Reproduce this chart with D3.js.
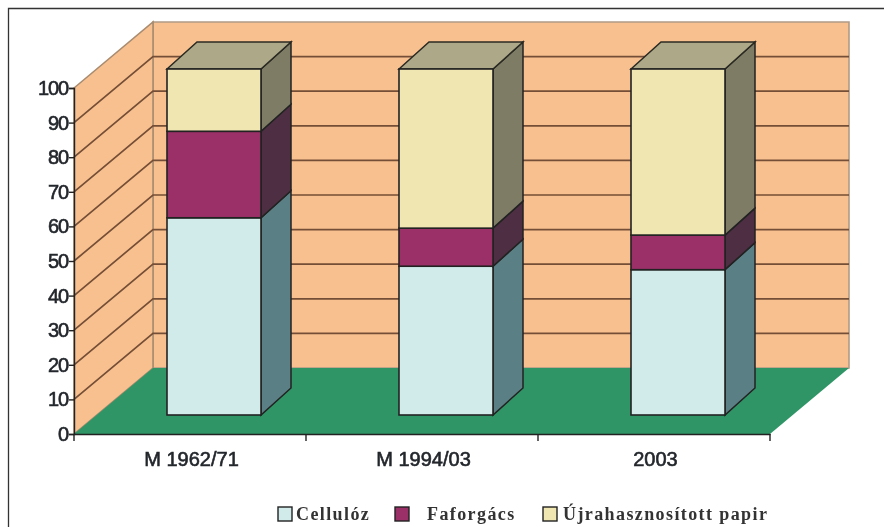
<!DOCTYPE html>
<html>
<head>
<meta charset="utf-8">
<script src="https://cdn.jsdelivr.net/npm/d3@7"></script>
<style>
  html, body { margin: 0; padding: 0; background: #fff; overflow: hidden; }
  svg { display: block; filter: blur(0.55px); }
  .axis text { font-family: "Liberation Sans", Arial, sans-serif; font-size: 20px; fill: #23272c; stroke: #23272c; stroke-width: 0.6px; }
  .axis.y text { letter-spacing: -1.1px; }
  .axis line, .axis path { stroke: #222; stroke-width: 1.4px; }
  .legend text { font-family: "Liberation Serif", serif; font-size: 18px; font-weight: bold; letter-spacing: 1.4px; fill: #333; }
</style>
</head>
<body>
<script>
// data
var categories = ["M 1962/71", "M 1994/03", "2003"];
var seriesNames = ["Cellulóz", "Faforgács", "Újrahasznosított papir"];
var cellulose = [57, 43, 42];
var chips = [25, 11, 10];
var recycled = [18, 46, 48];
var yTicks = [0, 10, 20, 30, 40, 50, 60, 70, 80, 90, 100];

var frontColors = ["#d0ebea", "#9b3068", "#f0e6b2"];
var sideColors = ["#5a7f84", "#4e2e42", "#7f7c66"];
var topColor = "#aca888";
var wallColor = "#f9c08f";
var floorColor = "#2f9566";
var gridColor = "#744e36";

// legend swatch x and text x
var legendSwatchX = [278, 395, 543];
var legendTextX = [296, 427, 563];

var rows = categories.map(function (c, i) {
  return { cat: c, s0: cellulose[i], s1: chips[i], s2: recycled[i] };
});
var stacked = d3.stack().keys(["s0", "s1", "s2"])(rows);

var svgW = 884, svgH = 527;
var x0 = 74, x1 = 770, y0 = 434, y100 = 88;
// depth of the 3d box
var dx = 79, dy = 66;
// bar front and back offsets inside the depth
var frontDx = 24, frontDy = 19, backDx = 54, backDy = 46;

var svg = d3.select("body").append("svg").attr("width", svgW).attr("height", svgH);

var x = d3.scaleBand().domain(categories).range([x0, x1]).paddingInner(0).paddingOuter(0);
var y = d3.scaleLinear().domain([0, 100]).range([y0, y100]);
var barW = 94;

function pts(list) {
  return list.map(function (p) { return p[0] + "," + p[1]; }).join(" ");
}

// outer frame, runs off the right and bottom of the picture
svg.append("path").attr("d", "M8.5," + svgH + "V8.5H" + svgW).attr("fill", "none").attr("stroke", "#333").attr("stroke-width", 1.3);

// walls
svg.append("polygon")
  .attr("points", pts([[x0 + dx, y(100) - dy], [x1 + dx, y(100) - dy], [x1 + dx, y(0) - dy], [x0 + dx, y(0) - dy]]))
  .attr("fill", wallColor).attr("stroke", "#b09a86").attr("stroke-width", 1.6);
svg.append("polygon")
  .attr("points", pts([[x0, y(100)], [x0 + dx, y(100) - dy], [x0 + dx, y(0) - dy], [x0, y(0)]]))
  .attr("fill", wallColor).attr("stroke", "#a98c70").attr("stroke-width", 1.6);

// floor
svg.append("polygon")
  .attr("points", pts([[x0, y(0)], [x0 + dx, y(0) - dy], [x1 + dx, y(0) - dy], [x1, y(0)]]))
  .attr("fill", floorColor);

// gridlines on side wall and back wall
svg.append("g").selectAll("polyline")
  .data(yTicks.filter(function (t) { return t > 0 && t < 100; }))
  .enter()
  .append("polyline")
  .attr("points", function (t) {
    return pts([[x0, y(t)], [x0 + dx, y(t) - dy], [x1 + dx, y(t) - dy]]);
  })
  .attr("fill", "none")
  .attr("stroke", gridColor)
  .attr("stroke-width", 1.7);

// bars
stacked.forEach(function (layer, k) {
  var g = svg.append("g").attr("class", "series");
  layer.forEach(function (d) {
    var left = x(d.data.cat) + (x.bandwidth() - barW) / 2 + frontDx;
    var right = left + barW;
    var b = y(d[0]) - frontDy;
    var t = y(d[1]) - frontDy;
    var sx = right + (backDx - frontDx);
    var sy = backDy - frontDy;
    // side
    g.append("polygon")
      .attr("points", pts([[right, t], [sx, t - sy], [sx, b - sy], [right, b]]))
      .attr("fill", sideColors[k]).attr("stroke", "#222").attr("stroke-width", 1.5);
    // top of the last segment
    if (k === stacked.length - 1) {
      g.append("polygon")
        .attr("points", pts([[left, t], [left + (backDx - frontDx), t - sy], [sx, t - sy], [right, t]]))
        .attr("fill", topColor).attr("stroke", "#2a2a22").attr("stroke-width", 1.5);
    }
    // front
    g.append("rect")
      .attr("x", left).attr("y", t)
      .attr("width", barW).attr("height", b - t)
      .attr("fill", frontColors[k]).attr("stroke", "#222").attr("stroke-width", 1.6);
  });
});

// axes
var yAxis = d3.axisLeft(y).tickValues(yTicks).tickSize(5).tickPadding(1);
svg.append("g").attr("class", "axis y").attr("transform", "translate(" + x0 + ",0)").call(yAxis);

var xAxis = d3.axisBottom(x).tickSize(0).tickPadding(18);
var xg = svg.append("g").attr("class", "axis x").attr("transform", "translate(0," + y0 + ")").call(xAxis);
xg.selectAll("text").attr("dx", 1.5);

// band edge ticks on the x axis
xg.selectAll("line.edge")
  .data(categories.concat(["end"]))
  .enter()
  .append("line")
  .attr("class", "edge")
  .attr("x1", function (d, i) { return x0 + i * x.step(); })
  .attr("x2", function (d, i) { return x0 + i * x.step(); })
  .attr("y1", 0)
  .attr("y2", 7);

// legend
var legend = svg.append("g").attr("class", "legend");
seriesNames.forEach(function (name, i) {
  legend.append("rect")
    .attr("x", legendSwatchX[i]).attr("y", 507)
    .attr("width", 14).attr("height", 14)
    .attr("fill", frontColors[i]).attr("stroke", "#222").attr("stroke-width", 1.4);
  legend.append("text").attr("x", legendTextX[i]).attr("y", 520).text(name);
});
</script>
</body>
</html>
